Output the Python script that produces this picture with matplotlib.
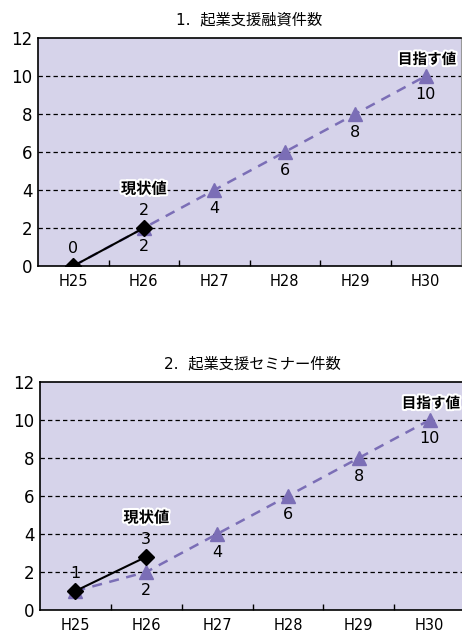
import matplotlib
matplotlib.use("Agg")
import matplotlib.pyplot as plt
import matplotlib.patheffects as pe

plt.rcParams["font.family"] = ["DejaVu Sans", "Noto Sans CJK JP"]

years = ["H25", "H26", "H27", "H28", "H29", "H30"]

titles = ["1.  起業支援融資件数", "2.  起業支援セミナー件数"]
target_1 = [0, 2, 4, 6, 8, 10]
actual_1 = [0, 2]
actual_labels_1 = ["0", "2"]
target_2 = [1, 2, 4, 6, 8, 10]
actual_2 = [1, 2.8]
actual_labels_2 = ["1", "3"]

BG = "#d6d3ea"
PURPLE = "#7b6eb6"

fig = plt.figure(figsize=(4.62, 6.32), dpi=100)
ax1 = fig.add_axes([0.0823, 0.5791, 0.9156, 0.3608])
ax2 = fig.add_axes([0.0866, 0.0348, 0.92, 0.3608])

halo = [pe.withStroke(linewidth=3, foreground="white")]


def draw(ax, title, target, actual, actual_labels):
    ax.set_facecolor(BG)
    x = list(range(len(years)))
    for y in range(2, 12, 2):
        ax.axhline(y, color="black", lw=0.9, ls=(0, (3.5, 2.5)), zorder=1)
    ax.plot(x, target, color=PURPLE, lw=1.8, ls=(0, (4, 3)),
            marker="^", ms=10, mec=PURPLE, mfc=PURPLE, zorder=2)
    ax.plot(x[:len(actual)], actual, color="black", lw=1.5,
            marker="D", ms=8, mfc="black", mec="black", zorder=3)

    # target labels below triangles
    for i, v in enumerate(target):
        if i == 0:
            continue
        ax.annotate(str(v), (i, v), xytext=(0, -13), textcoords="offset points",
                    ha="center", va="center", fontsize=11.5)
    # actual labels above diamonds
    for i, v in enumerate(actual):
        ax.annotate(actual_labels[i], (i, v), xytext=(0, 12.5),
                    textcoords="offset points", ha="center", va="center",
                    fontsize=11.5)
    ax.annotate("現状値", (1, actual[1]), xytext=(0, 28),
                textcoords="offset points", ha="center", va="center",
                fontsize=11, fontweight="bold", path_effects=halo)
    ax.annotate("目指す値", (5, target[5]), xytext=(1, 12),
                textcoords="offset points", ha="center", va="center",
                fontsize=10.5, fontweight="bold", path_effects=halo)

    ax.set_xlim(-0.5, 5.5)
    ax.set_ylim(0, 12)
    ax.set_yticks(range(0, 13, 2))
    ax.tick_params(axis="y", length=0, labelsize=12, pad=4)
    ax.set_xticks([i + 0.5 for i in range(5)])
    ax.set_xticklabels([])
    ax.tick_params(axis="x", which="major", direction="in", length=4, width=1)
    ax.set_xticks(x, minor=True)
    ax.set_xticklabels(years, minor=True)
    ax.tick_params(axis="x", which="minor", length=0, labelsize=10.5, pad=6)
    for s in ["left", "bottom", "top"]:
        ax.spines[s].set_linewidth(1.2)
    ax.spines["right"].set_color("#999999")
    ax.set_title(title, fontsize=11, pad=10)


draw(ax1, titles[0], target_1, actual_1, actual_labels_1)
draw(ax2, titles[1], target_2, actual_2, actual_labels_2)

fig.savefig("out.png", dpi=100)
